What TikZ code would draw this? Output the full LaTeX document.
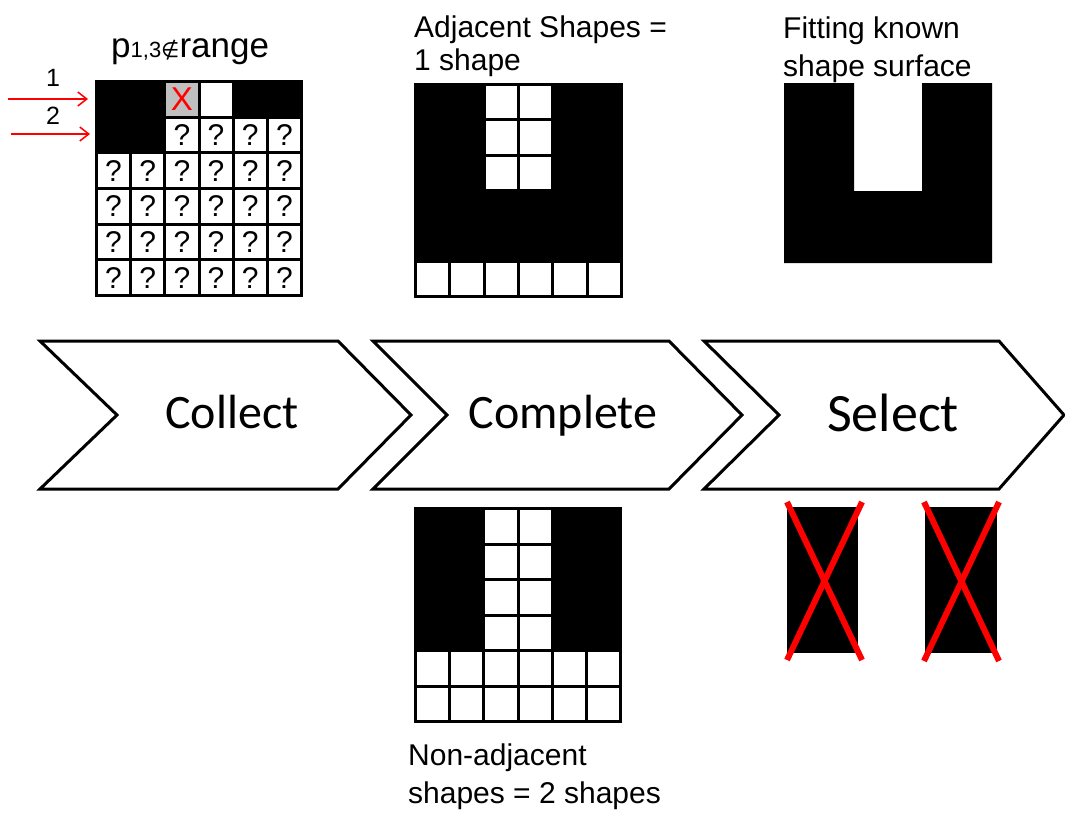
\documentclass[tikz,border=0pt]{standalone}
\usepackage{fontspec}
\setmainfont{Liberation Sans}
\newfontfamily\chevfont{Carlito}
\newfontfamily\symfont{DejaVu Sans}
\usetikzlibrary{arrows.meta}
\definecolor{xred}{RGB}{255,0,0}
\definecolor{xgray}{RGB}{192,192,192}
\newcommand\gcell[7]{%
  \path[#7] ({#1+3+#5*#3},{#2+3+#6*#4}) rectangle ({#1+#5*#3+#3},{#2+#6*#4+#4});}
\tikzset{
  lbl/.style={font=\fontsize{30}{36}\selectfont, inner sep=0pt, anchor=base west},
  chev/.style={draw=black, fill=white, line width=3pt, line join=miter},
  chevtxt/.style={font=\chevfont\fontsize{48}{56}\selectfont, inner sep=0pt, anchor=base},
  qm/.style={font=\fontsize{30}{32}\selectfont, inner sep=0pt},
  wc/.style={fill=white},
  redarrow/.style={draw=xred, line width=1.5pt, -{Straight Barb[length=9pt,width=14pt]}},
  cross/.style={draw=xred, line width=6pt},
}
\begin{document}
\begin{tikzpicture}[x=1pt,y=-1pt]
\useasboundingbox[fill=white] (0,0) rectangle (1065,812);

% ---------- top-left grid ----------
\fill[black] (95,80) rectangle (303,297);
\def\Ax{95}\def\Ay{80}\def\Ap{34.167}\def\Aq{35.667}
\gcell{\Ax}{\Ay}{\Ap}{\Aq}{2}{0}{fill=xgray}
\node[qm, text=xred, font=\fontsize{33}{36}\selectfont] (xcell) at ({\Ax+1.5+2.5*\Ap},{\Ay+1.5+0.5*\Aq}) {X};
\gcell{\Ax}{\Ay}{\Ap}{\Aq}{3}{0}{wc}
\foreach \c in {2,3,4,5}{
  \gcell{\Ax}{\Ay}{\Ap}{\Aq}{\c}{1}{wc}
  \node[qm] (q-\c-1) at ({\Ax+1.5+(\c+0.5)*\Ap},{\Ay+1.5+1.5*\Aq}) {?};
}
\foreach \r in {2,3,4,5}{
  \foreach \c in {0,...,5}{
    \gcell{\Ax}{\Ay}{\Ap}{\Aq}{\c}{\r}{wc}
    \node[qm] (q-\c-\r) at ({\Ax+1.5+(\c+0.5)*\Ap},{\Ay+1.5+(\r+0.5)*\Aq}) {?};
  }
}
\node[font=\fontsize{35}{40}\selectfont, inner sep=0pt, anchor=base west] (ptitle) at (111,57)
  {p{\fontsize{22}{26}\selectfont 1,3}{\symfont\fontsize{21}{24}\selectfont ∉}range};
\node[font=\fontsize{25}{28}\selectfont, inner sep=0pt] (n1) at (53,78) {1};
\node[font=\fontsize{25}{28}\selectfont, inner sep=0pt] (n2) at (53,116) {2};
\coordinate (a1s) at (8,99);  \coordinate (a1e) at (88,99);
\coordinate (a2s) at (11,134); \coordinate (a2e) at (90,134);
\draw[redarrow] (a1s) -- (a1e);
\draw[redarrow] (a2s) -- (a2e);

% ---------- top-middle grid ----------
\fill[black] (414,83) rectangle (623,298);
\def\Bx{414}\def\By{83}\def\Bp{34.333}\def\Bq{35.333}
\foreach \r in {0,1,2}{\foreach \c in {2,3}{\gcell{\Bx}{\By}{\Bp}{\Bq}{\c}{\r}{wc}}}
\foreach \c in {0,...,5}{\gcell{\Bx}{\By}{\Bp}{\Bq}{\c}{5}{wc}}
\node[lbl] (adj1) at (414,37) {Adjacent Shapes =};
\node[lbl] (adj2) at (414,70) {1 shape};

% ---------- top-right U shape ----------
\fill[black] (784,83) -- (854,83) -- (854,191) -- (922,191) -- (922,83) -- (992,83)
  -- (992,263) -- (784,263) -- cycle;
\node[lbl] (fit1) at (783,38) {Fitting known};
\node[lbl] (fit2) at (783,76) {shape surface};

% ---------- chevrons ----------
\draw[chev] (40,341) -- (338,341) -- (411,415) -- (338,489) -- (40,489) -- (117,415) -- cycle;
\draw[chev] (373,341) -- (669,341) -- (742,415) -- (669,489) -- (373,489) -- (447,415) -- cycle;
\draw[chev] (704,341) -- (999,341) -- (1064,415) -- (999,489) -- (704,489) -- (779,415) -- cycle;
\node[chevtxt] (collect) at (232,428) {Collect};
\node[chevtxt] (complete) at (563,428) {Complete};
\node[chevtxt, font=\chevfont\fontsize{54}{60}\selectfont] (select) at (893,431) {Select};

% ---------- bottom-middle grid ----------
\fill[black] (414,507) rectangle (622,723);
\def\Cx{414}\def\Cy{507}\def\Cp{34.167}\def\Cq{35.5}
\foreach \r in {0,1,2,3}{\foreach \c in {2,3}{\gcell{\Cx}{\Cy}{\Cp}{\Cq}{\c}{\r}{wc}}}
\foreach \r in {4,5}{\foreach \c in {0,...,5}{\gcell{\Cx}{\Cy}{\Cp}{\Cq}{\c}{\r}{wc}}}
\node[lbl] (non1) at (408,765) {Non-adjacent};
\node[lbl] (non2) at (408,803) {shapes = 2 shapes};

% ---------- bottom-right rejected shapes ----------
\fill[black] (787,507) rectangle (858,653);
\fill[black] (925,507) rectangle (997,653);
\draw[cross] (787,502) -- (862,660);
\draw[cross] (862,502) -- (787,660);
\draw[cross] (924,502) -- (999,661);
\draw[cross] (999,502) -- (924,661);
\end{tikzpicture}
\end{document}
